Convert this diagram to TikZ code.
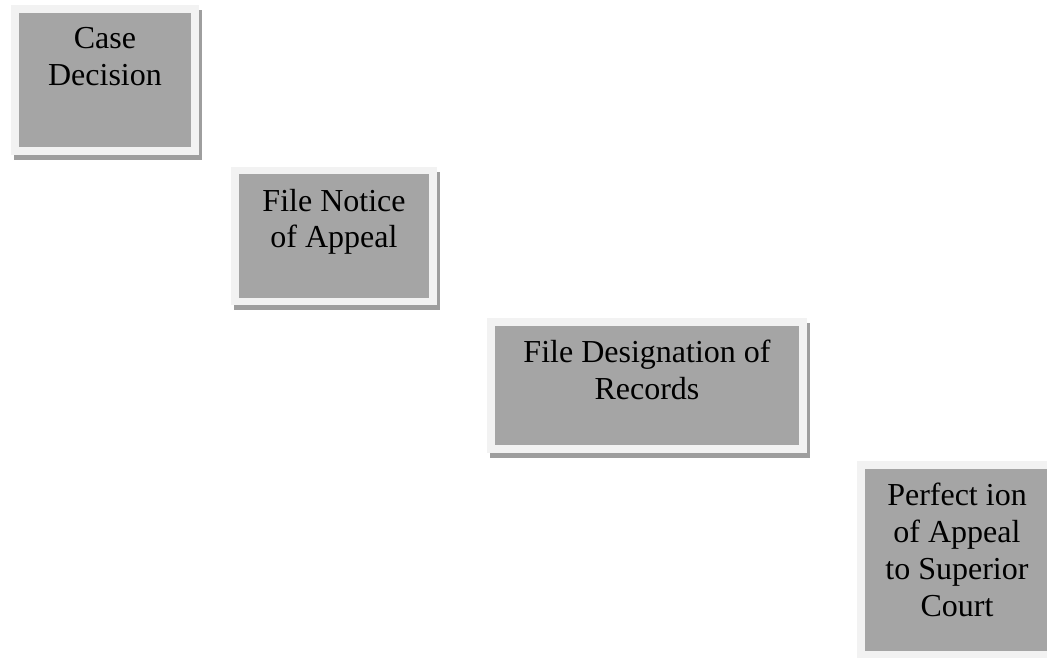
\documentclass[tikz,border=0pt]{standalone}
\usepackage{fontspec}
\setmainfont{Liberation Serif}
\usetikzlibrary{positioning}
\usetikzlibrary{shadows}
\definecolor{stagefill}{RGB}{165,165,165}
\definecolor{stageborder}{RGB}{242,242,242}
\definecolor{stageshadow}{RGB}{158,158,158}
\tikzstyle{every picture}=[x=1pt, y=-1pt]
\tikzstyle{every node}=[font=\fontsize{32pt}{36.7pt}\selectfont]
\tikzstyle{stage}=[rectangle, fill=stagefill, draw=stageborder, line width=7.5pt,
  drop shadow={shadow xshift=3pt, shadow yshift=-5pt, opacity=1,
               fill=stageshadow, draw=stageshadow, line width=7.5pt}]
\tikzstyle{caption}=[align=center, inner sep=0pt, anchor=north]

\begin{document}
\begin{tikzpicture}
\useasboundingbox (0,0) rectangle (1047,658);

\node[stage, minimum width=180pt, minimum height=142pt] (CaseDecision) at (105,80) {};
\node[caption, below=22pt of CaseDecision.north] (CaseText) {Case\\Decision};

\node[stage, minimum width=198pt, minimum height=131pt] (NoticeAppeal) at (334,236) {};
\node[caption, below=22pt of NoticeAppeal.north] (NoticeText) {File Notice\\of Appeal};

\node[stage, minimum width=312pt, minimum height=127pt] (DesignRecords) at (647,385.5) {};
\node[caption, below=22pt of DesignRecords.north] (DesignText) {File Designation of\\Records};

\node[stage, minimum width=192pt, minimum height=190pt] (Perfection) at (957,560) {};
\node[caption, below=22pt of Perfection.north] (PerfectText) {Perfect ion\\of Appeal\\to Superior\\Court};

\end{tikzpicture}
\end{document}
